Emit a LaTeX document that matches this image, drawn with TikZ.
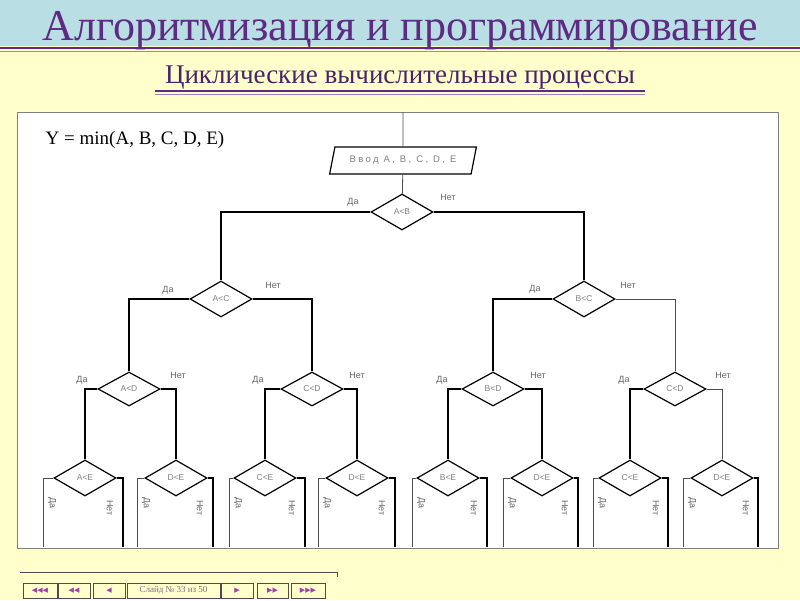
\documentclass[tikz,border=0pt]{standalone}
\usepackage{fontspec}
\setmainfont{Liberation Serif}
\newfontfamily\chartfont{Liberation Sans}
\newfontfamily\inputfont[LetterSpace=25]{Liberation Sans}
\newfontfamily\navglyph{DejaVu Sans}
\usetikzlibrary{shapes.geometric,positioning}
\definecolor{sky}{HTML}{B9DEE4}
\definecolor{cream}{HTML}{FFFFCC}
\definecolor{plum}{HTML}{5E2A84}
\definecolor{lilac}{HTML}{A880C8}
\definecolor{navpink}{HTML}{A040B0}
\definecolor{navtext}{HTML}{806890}

\tikzset{
  test/.style={draw,diamond,line width=1.2pt,minimum width=62pt,minimum height=36pt,inner sep=0pt,
    font=\chartfont\fontsize{8.5}{8.5}\selectfont,text=gray},
  branch/.style={line width=1.8pt},
  thinbranch/.style={line width=0.8pt,draw=black!70},
  yes/.style={font=\chartfont\fontsize{9}{9}\selectfont,text=black!60,inner sep=0pt},
  navbtn/.style={draw=black!70,fill=cream,minimum height=15pt,inner sep=0pt,
    font=\navglyph\fontsize{7}{7}\selectfont,text=navpink}
}

\begin{document}
\begin{tikzpicture}[x=1pt,y=-1pt]
\useasboundingbox (0,0) rectangle (800,600);
% background
\fill[cream] (0,0) rectangle (800,600);
\fill[sky] (0,0) rectangle (800,46);
\draw[plum,line width=2.5pt] (0,48) -- (800,48);
\draw[lilac,line width=1pt] (0,51.5) -- (800,51.5);
\node[text=plum,font=\fontsize{44}{44}\selectfont] (title) at (400,31) {Алгоритмизация и программирование};
\node[text=plum!80!black,font=\fontsize{27}{27}\selectfont] (sub) at (400,78) {Циклические вычислительные процессы};
\draw[plum,line width=2.5pt] (155,91) -- (645,91);
\draw[lilac,line width=1pt] (155,94) -- (645,94);

% chart area
\draw[black!50,fill=white] (17,112) rectangle (778,548);
\node[font=\fontsize{19}{19}\selectfont] (task) at (135,140) {Y = min(A, B, C, D, E)};

\coordinate (top) at (403,112);
\node[draw,trapezium,trapezium left angle=64,trapezium right angle=116,trapezium stretches=true,
  minimum width=147pt,minimum height=27pt,line width=1.2pt,inner sep=0pt,
  font=\inputfont\fontsize{9.5}{9.5}\selectfont,text=gray] (in) at (403,160.5) {Ввод A, B, C, D, E};

% level 1
\node[test] (ab) at (402,212) {A<B};
% level 2
\node[test] (ac) at (221,299) {A<C};
\node[test] (bc) at (584,299) {B<C};
% level 3
\node[test,minimum height=34pt] (ad) at (129,389) {A<D};
\node[test,minimum height=34pt] (cd1) at (312,389) {C<D};
\node[test,minimum height=34pt] (bd) at (493,389) {B<D};
\node[test,minimum height=34pt] (cd2) at (675,389) {C<D};
% level 4
\node[test] (ae) at (85,478) {A<E};
\node[test] (de1) at (176,478) {D<E};
\node[test] (ce1) at (265,478) {C<E};
\node[test] (de2) at (357,478) {D<E};
\node[test] (be) at (448,478) {B<E};
\node[test] (de3) at (542,478) {D<E};
\node[test] (ce2) at (630,478) {C<E};
\node[test] (de4) at (722,478) {D<E};

% free ends of the last branches
\coordinate (ae-y) at (43,547);   \coordinate (ae-n) at (123,547);
\coordinate (de1-y) at (137,547); \coordinate (de1-n) at (213,547);
\coordinate (ce1-y) at (229,547); \coordinate (ce1-n) at (305,547);
\coordinate (de2-y) at (318,547); \coordinate (de2-n) at (395,547);
\coordinate (be-y) at (412,547);  \coordinate (be-n) at (487,547);
\coordinate (de3-y) at (503,547); \coordinate (de3-n) at (578,547);
\coordinate (ce2-y) at (593,547); \coordinate (ce2-n) at (668,547);
\coordinate (de4-y) at (683,547); \coordinate (de4-n) at (758,547);

\draw[thinbranch] (top) -- (in);
\draw[thinbranch] (in) -- (ab);
\draw[branch] (ab.west) -| (ac.north);
\draw[branch] (ab.east) -| (bc.north);
\draw[branch] (ac.west) -| (ad.north);
\draw[branch] (ac.east) -| (cd1.north);
\draw[branch] (bc.west) -| (bd.north);
\draw[thinbranch] (bc.east) -| (cd2.north);
\draw[branch] (ad.west) -| (ae.north);
\draw[branch] (ad.east) -| (de1.north);
\draw[branch] (cd1.west) -| (ce1.north);
\draw[branch] (cd1.east) -| (de2.north);
\draw[branch] (bd.west) -| (be.north);
\draw[branch] (bd.east) -| (de3.north);
\draw[branch] (cd2.west) -| (ce2.north);
\draw[thinbranch] (cd2.east) -| (de4.north);
\draw[thinbranch] (ae.west) -| (ae-y);   \draw[branch] (ae.east) -| (ae-n);
\draw[thinbranch] (de1.west) -| (de1-y); \draw[branch] (de1.east) -| (de1-n);
\draw[thinbranch] (ce1.west) -| (ce1-y); \draw[branch] (ce1.east) -| (ce1-n);
\draw[thinbranch] (de2.west) -| (de2-y); \draw[branch] (de2.east) -| (de2-n);
\draw[thinbranch] (be.west) -| (be-y);   \draw[branch] (be.east) -| (be-n);
\draw[thinbranch] (de3.west) -| (de3-y); \draw[branch] (de3.east) -| (de3-n);
\draw[thinbranch] (ce2.west) -| (ce2-y); \draw[branch] (ce2.east) -| (ce2-n);
\draw[thinbranch] (de4.west) -| (de4-y); \draw[branch] (de4.east) -| (de4-n);

% branch labels
\node[yes] (ab-y) at (353,202) {Да};  \node[yes] (ab-n) at (448,197) {Нет};
\node[yes] (ac-y) at (168,290) {Да};  \node[yes] (ac-n) at (273,285) {Нет};
\node[yes] (bc-y) at (535,289) {Да};  \node[yes] (bc-n) at (628,285) {Нет};
\node[yes] (ad-y) at (82,380) {Да};   \node[yes] (ad-n) at (178,375) {Нет};
\node[yes] (cd1-y) at (258,380) {Да}; \node[yes] (cd1-n) at (357,375) {Нет};
\node[yes] (bd-y) at (442,380) {Да};  \node[yes] (bd-n) at (538,375) {Нет};
\node[yes] (cd2-y) at (624,380) {Да}; \node[yes] (cd2-n) at (723,375) {Нет};
\node[yes,rotate=-90] (ae-yl) at (52,503) {Да};   \node[yes,rotate=-90] (ae-nl) at (110,508) {Нет};
\node[yes,rotate=-90] (de1-yl) at (146,503) {Да}; \node[yes,rotate=-90] (de1-nl) at (200,508) {Нет};
\node[yes,rotate=-90] (ce1-yl) at (238,503) {Да}; \node[yes,rotate=-90] (ce1-nl) at (292,508) {Нет};
\node[yes,rotate=-90] (de2-yl) at (327,503) {Да}; \node[yes,rotate=-90] (de2-nl) at (382,508) {Нет};
\node[yes,rotate=-90] (be-yl) at (421,503) {Да};  \node[yes,rotate=-90] (be-nl) at (474,508) {Нет};
\node[yes,rotate=-90] (de3-yl) at (512,503) {Да}; \node[yes,rotate=-90] (de3-nl) at (565,508) {Нет};
\node[yes,rotate=-90] (ce2-yl) at (602,503) {Да}; \node[yes,rotate=-90] (ce2-nl) at (656,508) {Нет};
\node[yes,rotate=-90] (de4-yl) at (692,503) {Да}; \node[yes,rotate=-90] (de4-nl) at (746,508) {Нет};

% navigation bar
\draw[black!70] (20,572) -- (337,572) -- (337,577);
\node[navbtn,minimum width=34pt] (first) at (40,590.5) {◀◀◀};
\node[navbtn,minimum width=32pt] (back2) at (74,590.5) {◀◀};
\node[navbtn,minimum width=32pt] (back) at (109,590.5) {◀};
\node[navbtn,minimum width=93pt,font=\fontsize{9}{9}\selectfont,text=navtext] (slide) at (173.5,590.5) {Слайд № 33 из 50};
\node[navbtn,minimum width=32pt] (next) at (237,590.5) {▶};
\node[navbtn,minimum width=31pt] (next2) at (272.5,590.5) {▶▶};
\node[navbtn,minimum width=34pt] (last) at (308,590.5) {▶▶▶};
\end{tikzpicture}
\end{document}
